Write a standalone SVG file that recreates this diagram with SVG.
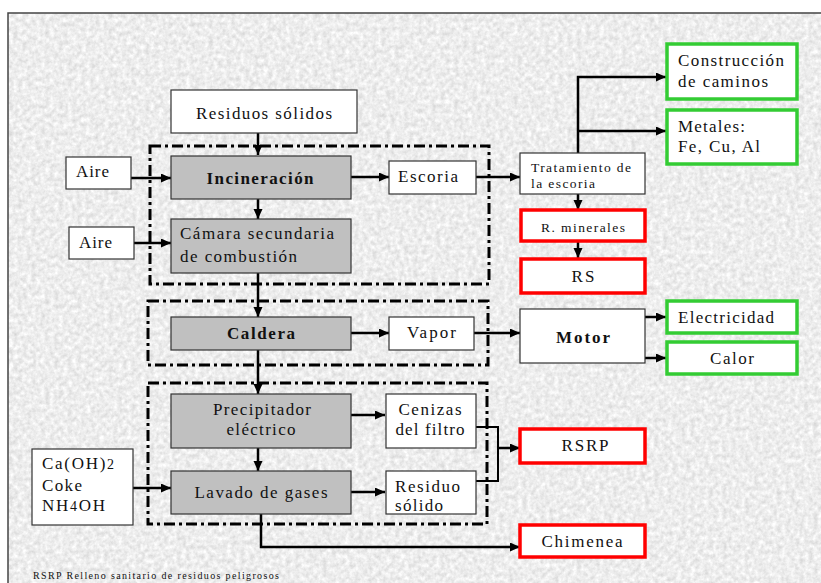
<svg xmlns="http://www.w3.org/2000/svg" width="821" height="583" viewBox="0 0 821 583">
<defs>
<filter id="tex" x="0" y="0" width="100%" height="100%" color-interpolation-filters="sRGB">
<feTurbulence type="fractalNoise" baseFrequency="0.22" numOctaves="3" seed="4" result="n"/>
<feColorMatrix in="n" type="matrix" values="0.22 0 0 0 0.82  0.22 0 0 0 0.82  0.22 0 0 0 0.82  0 0 0 0 1"/>
</filter>
<marker id="ah" markerUnits="userSpaceOnUse" markerWidth="11" markerHeight="10" refX="10" refY="4.5" orient="auto">
<path d="M0,0 L10,4.5 L0,9 Z" fill="#000"/>
</marker>
</defs>
<style>
text{font-family:"Liberation Serif","Times New Roman","DejaVu Serif",serif;font-size:17px;fill:#111;}
.b{font-weight:bold;}
.s{font-size:13.5px;}
.f{font-size:10px;}
.c{text-anchor:middle;}
.box{fill:#fff;stroke:#333;stroke-width:1.2;}
.gr{fill:#c0c0c0;stroke:#333;stroke-width:1.2;}
.red{fill:#fff;stroke:#ff0000;stroke-width:3.5;}
.grn{fill:#fff;stroke:#33cc33;stroke-width:3.5;}
.dd{fill:none;stroke:#000;stroke-width:3;stroke-dasharray:11 4 3 4;}
.cn{fill:none;stroke:#000;stroke-width:2.5;}
.cn2{fill:none;stroke:#000;stroke-width:2;}
</style>
<rect x="0" y="0" width="821" height="583" fill="#fff"/>
<rect x="8" y="13" width="813" height="570" fill="#ececec" filter="url(#tex)"/>
<path d="M8,583 V13 H821" fill="none" stroke="#444" stroke-width="1.5"/>

<g id="groups">
<rect class="dd" x="150" y="146" width="339" height="138"/>
<rect class="dd" x="148" y="301" width="340" height="64"/>
<rect class="dd" x="148" y="383" width="339" height="141"/>
</g>

<g id="connectors">
<line class="cn" x1="258" y1="133" x2="258" y2="155" marker-end="url(#ah)"/>
<line class="cn" x1="131" y1="178" x2="171" y2="178" marker-end="url(#ah)"/>
<line class="cn" x1="258" y1="199" x2="258" y2="219" marker-end="url(#ah)"/>
<line class="cn" x1="134" y1="243" x2="171" y2="243" marker-end="url(#ah)"/>
<line class="cn" x1="351" y1="177" x2="389" y2="177" marker-end="url(#ah)"/>
<line class="cn" x1="476" y1="177" x2="520" y2="177" marker-end="url(#ah)"/>
<line class="cn" x1="578" y1="194" x2="578" y2="210" marker-end="url(#ah)"/>
<line class="cn" x1="578" y1="242" x2="578" y2="258" marker-end="url(#ah)"/>
<path class="cn" d="M578,153 V77 H666" marker-end="url(#ah)"/>
<line class="cn" x1="578" y1="131" x2="666" y2="131" marker-end="url(#ah)"/>
<line class="cn" x1="258" y1="273" x2="258" y2="317" marker-end="url(#ah)"/>
<line class="cn" x1="351" y1="333" x2="389" y2="333" marker-end="url(#ah)"/>
<line class="cn" x1="474" y1="333" x2="520" y2="333" marker-end="url(#ah)"/>
<line class="cn" x1="645" y1="317" x2="666" y2="317" marker-end="url(#ah)"/>
<line class="cn" x1="645" y1="358" x2="666" y2="358" marker-end="url(#ah)"/>
<line class="cn" x1="258" y1="350" x2="258" y2="394" marker-end="url(#ah)"/>
<line class="cn" x1="258" y1="448" x2="258" y2="471" marker-end="url(#ah)"/>
<line class="cn" x1="133" y1="488" x2="171" y2="488" marker-end="url(#ah)"/>
<line class="cn" x1="351" y1="415" x2="385" y2="415" marker-end="url(#ah)"/>
<line class="cn" x1="351" y1="492" x2="385" y2="492" marker-end="url(#ah)"/>
<path class="cn2" d="M476,427 H498 V481 H476"/>
<line class="cn" x1="498" y1="448" x2="520" y2="448" marker-end="url(#ah)"/>
<path class="cn" d="M261,514 V547 H520" marker-end="url(#ah)"/>
</g>

<g id="residuos"><rect class="box" x="171" y="90" width="186" height="43"/><text x="264" y="119" class="c" textLength="136">Residuos sólidos</text></g>
<g id="aire1"><rect class="box" x="66" y="157" width="65" height="32"/><text x="76" y="177" textLength="33">Aire</text></g>
<g id="incineracion"><rect class="gr" x="171" y="156" width="180" height="43"/><text x="260" y="184" class="c b" textLength="107">Incineración</text></g>
<g id="aire2"><rect class="box" x="69" y="227" width="65" height="32"/><text x="79" y="248" textLength="33">Aire</text></g>
<g id="camara"><rect class="gr" x="171" y="219" width="180" height="54"/><text x="180" y="239" textLength="154">Cámara secundaria</text><text x="180" y="262" textLength="117">de combustión</text></g>
<g id="escoria"><rect class="box" x="389" y="161" width="87" height="33"/><text x="398" y="182" textLength="60">Escoria</text></g>
<g id="tratamiento"><rect class="box" x="520" y="153" width="125" height="41"/><text x="531" y="172" class="s" textLength="100">Tratamiento de</text><text x="531" y="188" class="s" textLength="64">la escoria</text></g>
<g id="rminerales"><rect class="red" x="521" y="210" width="124" height="31"/><text x="583" y="232" class="s c" textLength="84">R. minerales</text></g>
<g id="rs"><rect class="red" x="521" y="259" width="124" height="34"/><text x="583" y="282" class="c" textLength="23">RS</text></g>
<g id="construccion"><rect class="grn" x="667" y="44" width="130" height="55"/><text x="678" y="66" textLength="106">Construcción</text><text x="678" y="87" textLength="90">de caminos</text></g>
<g id="metales"><rect class="grn" x="667" y="110" width="130" height="54"/><text x="678" y="132" textLength="67">Metales:</text><text x="678" y="152" textLength="82">Fe, Cu, Al</text></g>
<g id="caldera"><rect class="gr" x="171" y="317" width="180" height="33"/><text x="261" y="339" class="c b" textLength="68">Caldera</text></g>
<g id="vapor"><rect class="box" x="389" y="317" width="85" height="33"/><text x="407" y="338" textLength="49">Vapor</text></g>
<g id="motor"><rect class="box" x="520" y="309" width="125" height="54"/><text x="583" y="343" class="c b" textLength="54">Motor</text></g>
<g id="electricidad"><rect class="grn" x="667" y="301" width="130" height="32"/><text x="678" y="323" textLength="96">Electricidad</text></g>
<g id="calor"><rect class="grn" x="667" y="342" width="130" height="32"/><text x="732" y="364" class="c" textLength="44">Calor</text></g>
<g id="precipitador"><rect class="gr" x="171" y="394" width="180" height="54"/><text x="262" y="415" class="c" textLength="98">Precipitador</text><text x="261" y="435" class="c" textLength="69">eléctrico</text></g>
<g id="reactivos"><rect class="box" x="32" y="449" width="101" height="76"/><text x="42" y="469" textLength="72">Ca(OH)<tspan font-size="14">2</tspan></text><text x="42" y="491" textLength="40">Coke</text><text x="42" y="511" textLength="63">NH<tspan font-size="14">4</tspan>OH</text></g>
<g id="lavado"><rect class="gr" x="171" y="471" width="180" height="43"/><text x="261" y="498" class="c" textLength="133">Lavado de gases</text></g>
<g id="cenizas"><rect class="box" x="386" y="394" width="90" height="54"/><text x="430" y="415" class="c" textLength="63">Cenizas</text><text x="430" y="435" class="c" textLength="69">del filtro</text></g>
<g id="residuo"><rect class="box" x="386" y="471" width="90" height="43"/><text x="395" y="492" textLength="65">Residuo</text><text x="395" y="511" textLength="48">sólido</text></g>
<g id="rsrp"><rect class="red" x="520" y="429" width="125" height="34"/><text x="585" y="451" class="c" textLength="47">RSRP</text></g>
<g id="chimenea"><rect class="red" x="520" y="525" width="125" height="32"/><text x="582" y="547" class="c" textLength="81">Chimenea</text></g>
<text x="33" y="579" class="f" textLength="246">RSRP Relleno sanitario de residuos peligrosos</text>
</svg>
